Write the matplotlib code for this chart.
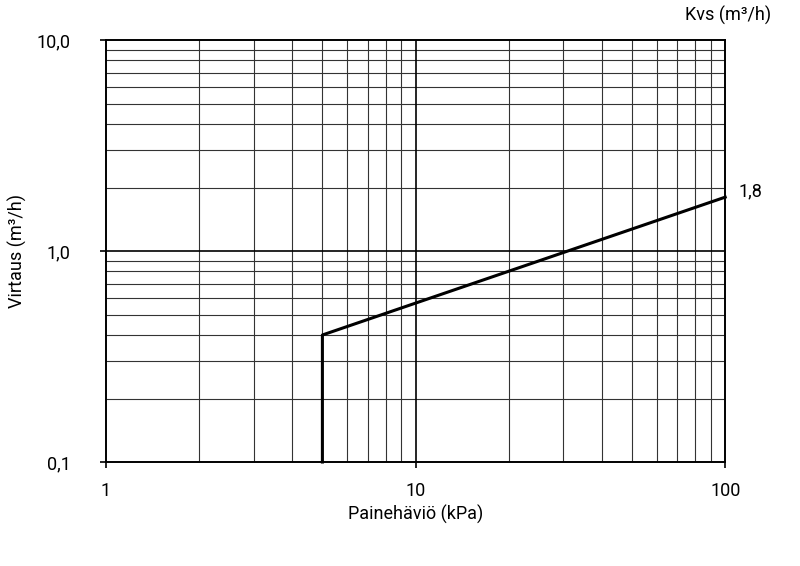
import matplotlib.pyplot as plt
from matplotlib.ticker import FixedLocator, NullFormatter

# Flow curve for valve Kvs 1.8
dp_kpa = [5, 5, 100]
flow_m3h = [0.1, 0.4, 1.8]
kvs_label = "1,8"

x_ticks = [1, 10, 100]
x_tick_labels = ["1", "10", "100"]
y_ticks = [0.1, 1.0, 10.0]
y_tick_labels = ["0,1", "1,0", "10,0"]

plt.rcParams['font.family'] = ['Roboto', 'DejaVu Sans']
FS = 13

fig = plt.figure(figsize=(8, 5.66), dpi=100)
ax = fig.add_axes([0.1325, 0.1837, 0.774, 0.7456])

ax.set_xscale('log')
ax.set_yscale('log')
ax.set_xlim(1, 100)
ax.set_ylim(0.1, 10)

# grid: minor lines thin, decades thicker
minor_x = [m * d for d in (1, 10) for m in range(2, 10)]
minor_y = [m * d for d in (0.1, 1) for m in range(2, 10)]
for v in minor_x:
    ax.axvline(v, color='#333333', lw=0.8, zorder=1)
for v in minor_y:
    ax.axhline(v, color='#333333', lw=0.8, zorder=1)
for v in x_ticks[1:-1]:
    ax.axvline(v, color='black', lw=1.2, zorder=1)
for v in y_ticks[1:-1]:
    ax.axhline(v, color='black', lw=1.2, zorder=1)

ax.plot(dp_kpa, flow_m3h, color='black', lw=2.2, zorder=3, clip_on=False)
ax.text(dp_kpa[-1] * 1.1, flow_m3h[-1] * 1.07, kvs_label, fontsize=FS, va='center', ha='left')

ax.xaxis.set_major_locator(FixedLocator(x_ticks))
ax.yaxis.set_major_locator(FixedLocator(y_ticks))
ax.set_xticklabels(x_tick_labels)
ax.set_yticklabels(y_tick_labels)
ax.xaxis.set_minor_locator(FixedLocator([]))
ax.yaxis.set_minor_locator(FixedLocator([]))
ax.xaxis.set_minor_formatter(NullFormatter())
ax.yaxis.set_minor_formatter(NullFormatter())
ax.tick_params(axis='both', which='major', direction='out', length=4.5, width=1.2,
               labelsize=FS, color='black')
ax.tick_params(axis='x', pad=10)
ax.tick_params(axis='y', pad=21)

for s in ax.spines.values():
    s.set_linewidth(1.4)
    s.set_color('black')

ax.set_xlabel('Painehäviö (kPa)', fontsize=FS, labelpad=3)
ax.set_ylabel('Virtaus (m³/h)', fontsize=FS, labelpad=7)

fig.text(0.964, 0.99, 'Kvs (m³/h)', fontsize=FS, ha='right', va='top')

fig.savefig('out.png', dpi=100)
